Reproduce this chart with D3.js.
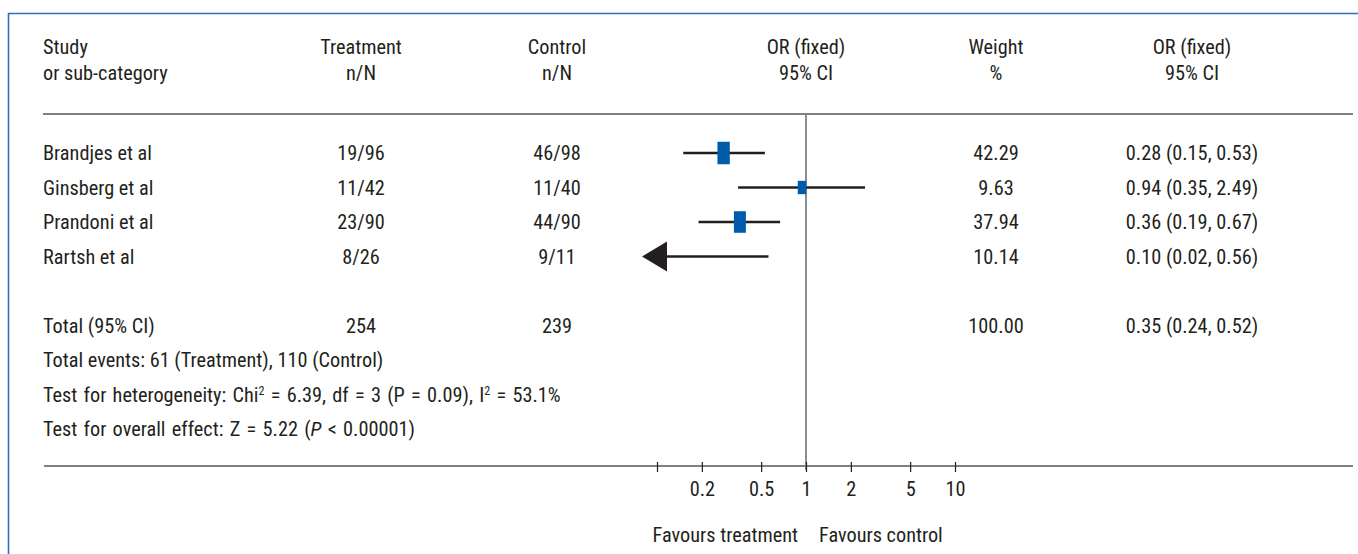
<!DOCTYPE html>
<html>
<head>
<meta charset="utf-8">
<script src="https://cdn.jsdelivr.net/npm/d3@7"></script>
<style>
    body { margin: 0; background: #fff; }
    text { font-family: Roboto, sans-serif; font-stretch: condensed; font-size: 20.3px; fill: #231f20; }
    .note { word-spacing: 1.6px; }
</style>
</head>
<body>
<div class="chart"></div>
<script>
// Data
let studies = ["Brandjes et al", "Ginsberg et al", "Prandoni et al", "Rartsh et al"];
let treatEvents = [19, 11, 23, 8];
let treatTotals = [96, 42, 90, 26];
let ctrlEvents = [46, 11, 44, 9];
let ctrlTotals = [98, 40, 90, 11];
let oddsRatios = [0.28, 0.94, 0.36, 0.10];
let ciLower = [0.15, 0.35, 0.19, 0.02];
let ciUpper = [0.53, 2.49, 0.67, 0.56];
let weights = [42.29, 9.63, 37.94, 10.14];

let totalTreat = 254;
let totalCtrl = 239;
let totalWeight = "100.00";
let totalOR = "0.35 (0.24, 0.52)";

let tickValues = [0.1, 0.2, 0.5, 1, 2, 5, 10];
let tickLabels = ["", "0.2", "0.5", "1", "2", "5", "10"];

let svgWidth = 1358;
let svgHeight = 554;

let svg = d3.select(".chart")
    .append("svg")
    .attr("width", svgWidth)
    .attr("height", svgHeight);

// Frame: blue top and left edges
svg.append("path")
    .attr("d", "M8.5,554 L8.5,13.5 L1358,13.5")
    .attr("fill", "none")
    .attr("stroke", "#2a70b8")
    .attr("stroke-width", 1.6);

// Column positions
let colStudy = 43;
let colTreat = 361;
let colCtrl = 557;
let colWeight = 996;
let colCI = 1192;

// Scales
let x = d3.scaleLog().domain([0.1, 10]).range([657, 955]);
let rowY = d3.scaleLinear().domain([0, 8]).range([153, 429]);
let boxH = d3.scaleSqrt().domain([0, 50]).range([5, 24]);
let boxW = d3.scaleSqrt().domain([0, 50]).range([5, 13]);

// Header
let header = svg.append("g");
function headText(xp, anchor, l1, l2) {
    header.append("text").attr("x", xp).attr("y", 47).attr("dy", "0.36em")
        .attr("text-anchor", anchor).text(l1);
    header.append("text").attr("x", xp).attr("y", 73).attr("dy", "0.36em")
        .attr("text-anchor", anchor).text(l2);
}
headText(colStudy, "start", "Study", "or sub-category");
headText(colTreat, "middle", "Treatment", "n/N");
headText(colCtrl, "middle", "Control", "n/N");
headText(x(1), "middle", "OR (fixed)", "95% CI");
headText(colWeight, "middle", "Weight", "%");
headText(colCI, "middle", "OR (fixed)", "95% CI");

// Rules
svg.append("line")
    .attr("x1", 43).attr("x2", 1353).attr("y1", 114).attr("y2", 114)
    .attr("stroke", "#808080").attr("stroke-width", 1.8);

svg.append("line")
    .attr("x1", x(1)).attr("x2", x(1)).attr("y1", 114).attr("y2", 470)
    .attr("stroke", "#808080").attr("stroke-width", 1.8);

// Study rows
let rows = svg.append("g");
studies.forEach(function(name, i) {
    let y = rowY(i);
    rows.append("text").attr("x", colStudy).attr("y", y).attr("dy", "0.36em").text(name);
    rows.append("text").attr("x", colTreat).attr("y", y).attr("dy", "0.36em")
        .attr("text-anchor", "middle").text(`${treatEvents[i]}/${treatTotals[i]}`);
    rows.append("text").attr("x", colCtrl).attr("y", y).attr("dy", "0.36em")
        .attr("text-anchor", "middle").text(`${ctrlEvents[i]}/${ctrlTotals[i]}`);
    rows.append("text").attr("x", colWeight).attr("y", y).attr("dy", "0.36em")
        .attr("text-anchor", "middle").text(weights[i].toFixed(2));
    rows.append("text").attr("x", colCI).attr("y", y).attr("dy", "0.36em")
        .attr("text-anchor", "middle")
        .text(`${oddsRatios[i].toFixed(2)} (${ciLower[i].toFixed(2)}, ${ciUpper[i].toFixed(2)})`);
});

// Forest marks
let marks = svg.append("g");
studies.forEach(function(name, i) {
    let y = rowY(i);
    let clipped = ciLower[i] < x.domain()[0];
    if (clipped) {
        // lower limit off the scale: draw an arrow instead of the box
        let base = x(x.domain()[0]) + 10;
        let tip = x(x.domain()[0]) - 15;
        marks.append("line")
            .attr("x1", base).attr("x2", x(ciUpper[i])).attr("y1", y).attr("y2", y)
            .attr("stroke", "#231f20").attr("stroke-width", 2.4);
        marks.append("path")
            .attr("d", `M${tip},${y} L${base},${y - 15} L${base},${y + 15} Z`)
            .attr("fill", "#231f20");
    } else {
        marks.append("line")
            .attr("x1", x(ciLower[i])).attr("x2", x(ciUpper[i])).attr("y1", y).attr("y2", y)
            .attr("stroke", "#231f20").attr("stroke-width", 2.4);
        let w = boxW(weights[i]);
        let h = boxH(weights[i]);
        marks.append("rect")
            .attr("x", x(oddsRatios[i]) - w / 2)
            .attr("y", y - h / 2)
            .attr("width", w)
            .attr("height", h)
            .attr("fill", "#005bab");
    }
});

// Total row
let yTot = rowY(5);
rows.append("text").attr("x", colStudy).attr("y", yTot).attr("dy", "0.36em").text("Total (95% CI)");
rows.append("text").attr("x", colTreat).attr("y", yTot).attr("dy", "0.36em")
    .attr("text-anchor", "middle").text(totalTreat);
rows.append("text").attr("x", colCtrl).attr("y", yTot).attr("dy", "0.36em")
    .attr("text-anchor", "middle").text(totalCtrl);
rows.append("text").attr("x", colWeight).attr("y", yTot).attr("dy", "0.36em")
    .attr("text-anchor", "middle").text(totalWeight);
rows.append("text").attr("x", colCI).attr("y", yTot).attr("dy", "0.36em")
    .attr("text-anchor", "middle").text(totalOR);

// Notes
rows.append("text").attr("x", colStudy).attr("y", rowY(6)).attr("dy", "0.36em")
    .text("Total events: 61 (Treatment), 110 (Control)");

let het = rows.append("text").attr("class", "note").attr("x", colStudy).attr("y", rowY(7)).attr("dy", "0.36em");
het.append("tspan").text("Test for heterogeneity: Chi");
het.append("tspan").style("font-size", "12px").attr("dy", -7).text("2");
het.append("tspan").attr("dy", 7).text(" = 6.39, df = 3 (P = 0.09), I");
het.append("tspan").style("font-size", "12px").attr("dy", -7).text("2");
het.append("tspan").attr("dy", 7).text(" = 53.1%");

let eff = rows.append("text").attr("class", "note").attr("x", colStudy).attr("y", rowY(8)).attr("dy", "0.36em");
eff.append("tspan").text("Test for overall effect: Z = 5.22 (");
eff.append("tspan").style("font-style", "italic").text("P");
eff.append("tspan").text(" < 0.00001)");

// Axis
let axisY = 466;
svg.append("line")
    .attr("x1", 44).attr("x2", 1353).attr("y1", axisY).attr("y2", axisY)
    .attr("stroke", "#808080").attr("stroke-width", 1.8);

let xAxis = svg.append("g")
    .attr("transform", `translate(0, ${axisY})`)
    .call(d3.axisBottom(x)
        .tickValues(tickValues)
        .tickFormat((d, i) => tickLabels[i])
        .tickSize(10));

xAxis.select(".domain").remove();
xAxis.attr("font-family", null).attr("font-size", null);
xAxis.selectAll(".tick line")
    .attr("y1", -4).attr("y2", 6)
    .attr("stroke", "#231f20").attr("stroke-width", 1.2);
xAxis.selectAll(".tick text")
    .attr("y", 23).attr("dy", "0.36em")
    .attr("fill", "#231f20");

// Direction labels
svg.append("text").attr("x", x(1) - 8).attr("y", 535).attr("dy", "0.36em")
    .attr("text-anchor", "end").text("Favours treatment");
svg.append("text").attr("x", x(1) + 13).attr("y", 535).attr("dy", "0.36em")
    .attr("text-anchor", "start").text("Favours control");
</script>
</body>
</html>
